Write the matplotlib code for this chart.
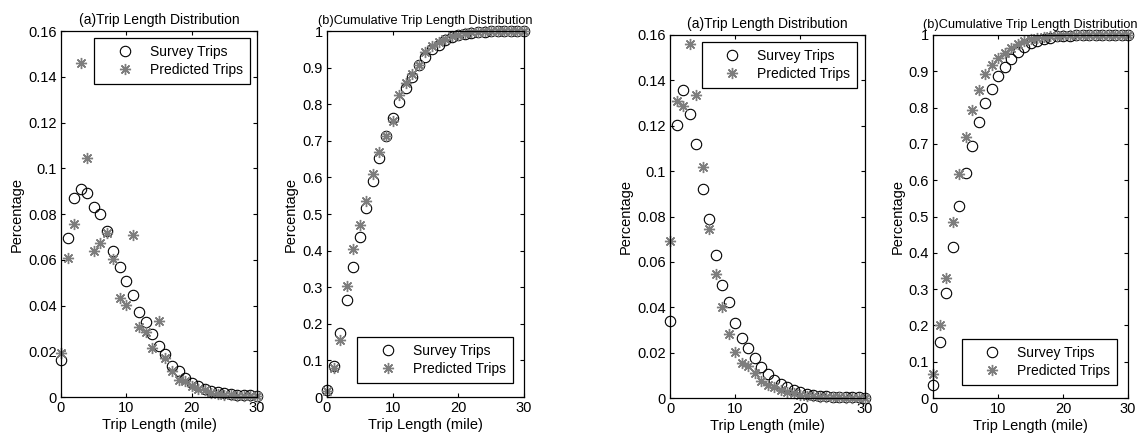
import matplotlib
matplotlib.use("Agg")
import matplotlib.pyplot as plt

plt.rcParams['font.family'] = ['Liberation Sans', 'DejaVu Sans']

miles = list(range(31))

# left pair
survey_dist_1 = [0.0163, 0.0693, 0.0871, 0.0909, 0.0891, 0.0829, 0.0802, 0.0727, 0.0639, 0.0567,
                 0.0506, 0.0445, 0.0373, 0.0327, 0.0274, 0.0225, 0.0190, 0.0137, 0.0112, 0.0083,
                 0.0061, 0.0050, 0.0035, 0.0025, 0.0020, 0.0017, 0.0015, 0.0010, 0.0009, 0.0008, 0.0006]
pred_dist_1 = [0.0193, 0.0608, 0.0756, 0.1459, 0.1046, 0.0637, 0.0674, 0.0719, 0.0602, 0.0433,
               0.0404, 0.0710, 0.0306, 0.0282, 0.0214, 0.0331, 0.0172, 0.0115, 0.0076, 0.0068,
               0.0050, 0.0035, 0.0030, 0.0017, 0.0015, 0.0010, 0.0008, 0.0006, 0.0005, 0.0004, 0.0003]
survey_cum_1 = [0.018, 0.086, 0.175, 0.264, 0.355, 0.438, 0.516, 0.591, 0.654, 0.712,
                0.763, 0.807, 0.844, 0.875, 0.906, 0.930, 0.951, 0.963, 0.975, 0.983,
                0.989, 0.993, 0.995, 0.997, 0.998, 0.999, 0.999, 1.0, 1.0, 1.0, 1.0]
pred_cum_1 = [0.0155, 0.079, 0.155, 0.302, 0.404, 0.469, 0.536, 0.609, 0.669, 0.713,
              0.754, 0.825, 0.857, 0.882, 0.907, 0.942, 0.960, 0.971, 0.979, 0.986,
              0.990, 0.994, 0.996, 0.998, 0.999, 0.999, 1.0, 1.0, 1.0, 1.0, 1.0]

# right pair
survey_dist_2 = [0.0341, 0.1204, 0.1358, 0.1251, 0.1120, 0.0922, 0.0788, 0.0631, 0.0496, 0.0421,
                 0.0330, 0.0264, 0.0220, 0.0176, 0.0137, 0.0106, 0.0081, 0.0063, 0.0048, 0.0034,
                 0.0025, 0.0019, 0.0015, 0.0010, 0.0008, 0.0006, 0.0005, 0.0004, 0.0003, 0.0003, 0.0002]
pred_dist_2 = [0.0690, 0.1309, 0.1287, 0.1559, 0.1336, 0.1016, 0.0744, 0.0546, 0.0399, 0.0282,
               0.0201, 0.0154, 0.0139, 0.0110, 0.0076, 0.0059, 0.0047, 0.0035, 0.0026, 0.0020,
               0.0015, 0.0011, 0.0008, 0.0006, 0.0004, 0.0003, 0.0003, 0.0002, 0.0002, 0.0001, 0.0001]
survey_cum_2 = [0.035, 0.153, 0.289, 0.415, 0.528, 0.621, 0.695, 0.761, 0.813, 0.851,
                0.887, 0.911, 0.934, 0.952, 0.966, 0.977, 0.984, 0.990, 0.993, 0.996,
                0.997, 0.998, 0.999, 0.999, 1.0, 1.0, 1.0, 1.0, 1.0, 1.0, 1.0]
pred_cum_2 = [0.067, 0.200, 0.330, 0.484, 0.617, 0.720, 0.793, 0.849, 0.892, 0.917,
              0.936, 0.951, 0.965, 0.975, 0.983, 0.988, 0.992, 0.995, 0.997, 0.998,
              0.999, 1.0, 1.0, 1.0, 1.0, 1.0, 1.0, 1.0, 1.0, 1.0, 1.0]

dist_ticks = [0, 0.02, 0.04, 0.06, 0.08, 0.1, 0.12, 0.14, 0.16]
dist_labels = ['0', '0.02', '0.04', '0.06', '0.08', '0.1', '0.12', '0.14', '0.16']
cum_ticks = [0, 0.1, 0.2, 0.3, 0.4, 0.5, 0.6, 0.7, 0.8, 0.9, 1]
cum_labels = ['0', '0.1', '0.2', '0.3', '0.4', '0.5', '0.6', '0.7', '0.8', '0.9', '1']
x_ticks = [0, 10, 20, 30]

asterisk = (8, 2, 0)


def draw_panel(ax, survey, pred, title, title_size, yticks, ylabels, legend_loc, legend_anchor):
    ax.plot(miles, survey, linestyle='none', marker='o', markersize=7.5,
            markerfacecolor='none', markeredgecolor='black', markeredgewidth=0.8,
            label='Survey Trips', clip_on=False)
    ax.plot(miles, pred, linestyle='none', marker=asterisk, markersize=8,
            color='#7d7d7d', markeredgewidth=1.0, label='Predicted Trips', clip_on=False)
    ax.set_xlim(0, 30)
    ax.set_ylim(yticks[0], yticks[-1])
    ax.set_xticks(x_ticks)
    ax.set_yticks(yticks)
    ax.set_yticklabels(ylabels)
    ax.tick_params(direction='in', top=True, right=True, length=3, labelsize=10.5, pad=3)
    for side in ax.spines.values():
        side.set_linewidth(0.9)
    ax.set_title(title, fontsize=title_size, pad=5)
    ax.set_xlabel('Trip Length (mile)', fontsize=10.5, labelpad=2)
    ax.set_ylabel('Percentage', fontsize=10.5, labelpad=3)
    leg = ax.legend(loc=legend_loc, bbox_to_anchor=legend_anchor, borderaxespad=0,
                    fontsize=10, numpoints=1, handlelength=3.4, handletextpad=0.1,
                    borderpad=0.5, labelspacing=0.3, fancybox=False, framealpha=1,
                    edgecolor='black')
    leg.get_frame().set_linewidth(0.9)


fig = plt.figure(figsize=(11.44, 4.38), dpi=100)
ax1 = fig.add_axes([0.0533, 0.0936, 0.1713, 0.8356])
ax2 = fig.add_axes([0.2858, 0.0936, 0.1722, 0.8356])
ax3 = fig.add_axes([0.5857, 0.0913, 0.1705, 0.8288])
ax4 = fig.add_axes([0.8156, 0.0913, 0.1705, 0.8288])

draw_panel(ax1, survey_dist_1, pred_dist_1, '(a)Trip Length Distribution', 10,
           dist_ticks, dist_labels, 'upper right', (0.964, 0.981))
draw_panel(ax2, survey_cum_1, pred_cum_1, '(b)Cumulative Trip Length Distribution', 9.2,
           cum_ticks, cum_labels, 'lower right', (0.944, 0.038))
draw_panel(ax3, survey_dist_2, pred_dist_2, '(a)Trip Length Distribution', 10,
           dist_ticks, dist_labels, 'upper right', (0.959, 0.981))
draw_panel(ax4, survey_cum_2, pred_cum_2, '(b)Cumulative Trip Length Distribution', 9.2,
           cum_ticks, cum_labels, 'lower right', (0.944, 0.036))

fig.savefig('out.png', dpi=100)
